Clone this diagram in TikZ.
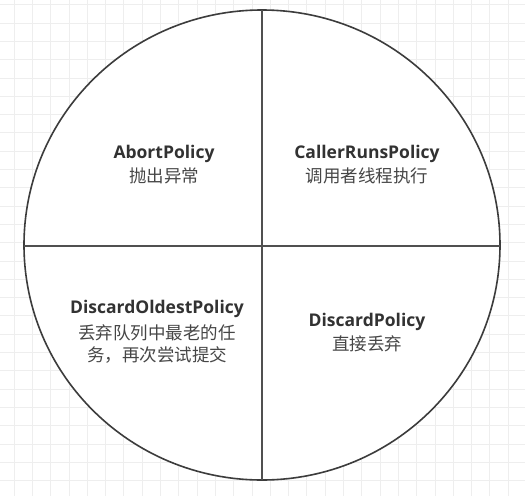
\documentclass[tikz,border=0pt]{standalone}
\usepackage{fontspec}
\setmainfont{Open Sans}
\newfontfamily\cjk{Noto Sans CJK SC}
\usetikzlibrary{positioning}
\definecolor{gridgray}{RGB}{238,238,238}
\definecolor{ringgray}{RGB}{60,60,60}
\definecolor{textgray}{RGB}{50,50,50}
\tikzset{
  gridline/.style={gridgray, line width=0.8pt},
  ring/.style={ringgray, line width=1.6pt, fill=white},
  divider/.style={ringgray!90, line width=2pt},
  policy/.style={inner sep=0pt, align=center, text=textgray, font=\fontsize{17.5}{22}\selectfont\bfseries},
  note/.style={inner sep=0pt, align=center, text=textgray!90, font=\fontsize{17.5}{22}\selectfont\cjk}
}

\begin{document}
\begin{tikzpicture}[x=1pt, y=-1pt]
\useasboundingbox (0,0) rectangle (525,496);
\fill[white] (0,0) rectangle (525,496);

% 1. 背景网格
\foreach \gx in {14,32.3,...,525}
    {\draw[gridline] (\gx,0) -- (\gx,496);}
\foreach \gy in {4.7,23,...,496}
    {\draw[gridline] (0,\gy) -- (525,\gy);}

% 2. 标记重要的点
\coordinate (C) at (262, 245);
\coordinate (top) at (262, 10);
\coordinate (bottom) at (262, 480);
\coordinate (left) at (24, 246);
\coordinate (right) at (500, 246);

% 3. 圆和分隔线
\draw[ring] (C) ellipse [x radius=238pt, y radius=235pt];
\draw[divider] (top) -- (bottom);
\draw[divider] (left) -- (right);

% 4. 四种拒绝策略
\node[policy] (abort) at (164, 154) {AbortPolicy};
\node[note] (abortcn) at (164, 176) {抛出异常};

\node[policy] (callerruns) at (367, 154) {CallerRunsPolicy};
\node[note] (callerrunscn) at (367, 176) {调用者线程执行};

\node[policy] (discardoldest) at (157, 309) {DiscardOldestPolicy};
\node[note] (discardoldestcn) at (157, 344) {丢弃队列中最老的任\\务，再次尝试提交};

\node[policy] (discard) at (367, 322) {DiscardPolicy};
\node[note] (discardcn) at (367, 344) {直接丢弃};
\end{tikzpicture}
\end{document}
